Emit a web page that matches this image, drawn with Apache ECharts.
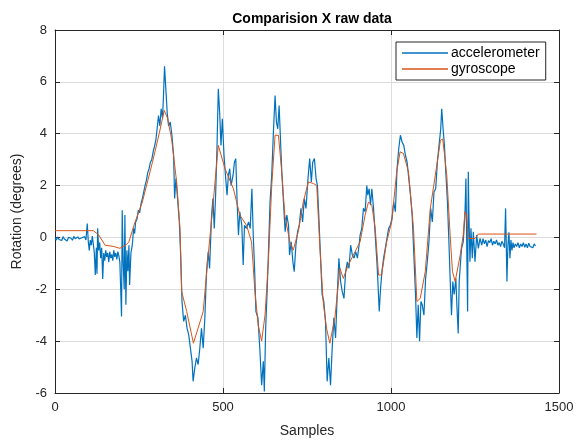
<!DOCTYPE html>
<html>
<head>
<meta charset="utf-8">
<script src="https://cdn.jsdelivr.net/npm/echarts@6/dist/echarts.min.js"></script>
<style>
  html, body { margin: 0; padding: 0; background: #fff; }
  #chart { width: 578px; height: 443px; }
</style>
</head>
<body>
<div id="chart"></div>
<script>
// [sample, degrees]
var accelData = [
    [0,-0.02],[4,-0.10],[8,0.02],[12,-0.08],[16,-0.04],[20,-0.12],[24,0.03],[28,-0.06],[32,-0.02],[36,-0.14],
    [40,0.0],[44,-0.07],[48,-0.03],[52,-0.11],[56,0.04],[60,-0.05],[64,-0.09],[68,0.02],[72,-0.06],[76,-0.13],
    [80,-0.01],[84,-0.08],[88,0.03],[92,-0.10],[96,0.54],[99,-0.15],[102,-0.5],[105,-0.1],[108,-0.3],[111,0.05],
    [114,-0.25],[117,-0.6],[120,-1.45],[123,-0.4],[125,-1.4],[127,0.35],[130,-0.5],[133,-0.2],[136,-0.8],[139,-0.4],
    [142,-1.6],[145,-0.6],[148,-0.9],[151,-0.5],[154,-0.75],[157,-0.6],[160,-0.95],[163,-0.55],[166,-0.8],[169,-0.65],
    [172,-0.9],[175,-0.5],[178,-0.75],[181,-0.6],[184,-0.85],[187,-0.55],[190,-0.7],[193,-0.95],[196,-2.2],[198,-3.05],
    [200,1.05],[203,-1.0],[206,-2.0],[208,0.86],[211,-2.6],[214,-0.5],[217,-1.3],[220,-0.3],[222,-1.83],[226,-0.6],
    [230,-0.3],[234,0.35],[237,0.15],[240,0.6],[244,0.7],[248,1.05],[252,0.95],[256,1.3],[260,1.5],[264,1.75],
    [268,2.0],[272,2.2],[276,2.5],[280,2.65],[284,2.9],[288,3.0],[292,3.3],[296,3.5],[300,3.75],[304,4.2],
    [308,4.7],[312,4.3],[316,4.96],[320,4.6],[323,5.5],[326,6.6],[330,5.7],[334,4.8],[338,4.3],[343,4.45],
    [348,3.94],[353,3.17],[356,1.5],[360,2.27],[364,1.63],[370,0.6],[374,-0.68],[378,-2.47],[383,-3.24],[388,-3.0],
    [393,-3.5],[398,-3.76],[403,-4.27],[408,-4.78],[411,-5.55],[416,-5.04],[421,-4.65],[426,-4.9],[431,-4.27],[436,-3.5],
    [441,-4.27],[446,-3.1],[451,-1.32],[456,-0.55],[460,-1.2],[466,0.86],[470,1.5],[474,0.35],[478,1.63],[482,3.42],
    [486,5.73],[490,4.83],[494,3.55],[498,4.58],[503,3.17],[508,2.27],[512,1.63],[516,2.4],[520,2.65],[524,2.0],
    [530,2.4],[534,2.9],[538,3.04],[542,1.37],[546,0.09],[550,0.99],[556,0.47],[560,-1.06],[564,0.47],[570,0.35],
    [576,0.6],[581,0.35],[586,1.88],[590,0.09],[594,-1.2],[598,-2.86],[604,-3.1],[610,-4.4],[615,-5.7],[620,-4.78],
    [623,-5.94],[627,-3.5],[631,-2.2],[635,-0.68],[640,1.37],[645,2.4],[650,4.06],[655,5.47],[659,4.45],[663,4.19],
    [667,5.09],[671,3.8],[675,2.53],[680,1.37],[685,0.22],[690,0.86],[695,0.47],[698,-0.68],[703,-0.17],[708,-0.94],
    [712,-1.32],[717,-0.3],[722,0.22],[727,0.47],[732,1.12],[737,0.6],[742,1.5],[747,1.12],[753,2.27],[758,3.04],
    [763,2.14],[767,2.9],[772,3.04],[777,2.27],[781,2.0],[785,0.86],[790,-0.68],[795,-2.2],[800,-2.47],[805,-3.24],
    [810,-5.55],[815,-4.65],[820,-5.7],[825,-4.27],[830,-3.1],[835,-3.88],[840,-2.2],[845,-0.8],[850,-1.7],[855,-2.09],
    [860,-2.35],[865,-1.32],[870,-0.94],[875,-1.19],[880,-0.3],[885,-0.68],[890,-0.8],[895,-0.55],[900,-0.8],[905,-0.3],
    [908,0.09],[913,0.35],[918,1.12],[923,0.99],[928,2.0],[931,1.63],[935,1.88],[939,1.24],[943,1.88],[948,1.12],
    [953,0.09],[958,-0.94],[961,-1.7],[965,-2.86],[969,-1.96],[973,-1.32],[978,-0.8],[983,-0.42],[988,-0.04],[993,0.35],
    [998,0.47],[1003,0.73],[1008,1.37],[1013,0.99],[1018,2.65],[1023,3.42],[1028,3.94],[1033,3.68],[1038,3.55],[1043,3.17],
    [1048,2.9],[1053,2.27],[1058,1.63],[1063,0.86],[1068,-0.68],[1073,-2.2],[1077,-3.88],[1081,-2.6],[1085,-4.0],[1089,-2.47],
    [1093,-2.6],[1098,-3.0],[1103,-1.58],[1108,-0.94],[1113,-0.17],[1118,1.12],[1123,0.6],[1128,1.76],[1133,1.88],[1138,2.9],
    [1143,3.55],[1148,4.19],[1151,4.96],[1155,4.19],[1159,3.55],[1163,2.53],[1168,1.37],[1173,-0.42],[1176,-1.58],[1180,-3.0],
    [1184,-1.7],[1188,-2.2],[1193,-1.58],[1196,-2.6],[1200,-3.7],[1203,-1.7],[1207,-0.94],[1210,-0.42],[1215,-0.17],[1220,0.86],
    [1223,2.27],[1226,-0.94],[1228,-2.86],[1230,2.53],[1232,0.86],[1235,-0.94],[1238,0.35],[1242,-0.8],[1245,0.22],[1250,-0.94],
    [1255,0.09],[1260,-0.42],[1265,-0.04],[1270,-0.3],[1274,-0.05],[1278,-0.25],[1282,-0.1],[1286,-0.35],[1290,-0.12],[1294,-0.2],
    [1298,-0.05],[1302,-0.3],[1306,-0.15],[1310,-0.25],[1314,-0.1],[1318,-0.3],[1322,-0.2],[1326,-0.35],[1330,-0.15],[1334,-0.25],
    [1338,-0.4],[1341,1.12],[1343,-0.2],[1345,-1.7],[1348,-0.3],[1351,0.2],[1354,-0.8],[1357,-0.1],[1360,-0.5],[1363,-0.2],
    [1366,-0.4],[1370,-0.25],[1374,-0.35],[1378,-0.2],[1382,-0.4],[1386,-0.25],[1390,-0.35],[1394,-0.2],[1398,-0.38],[1402,-0.25],
    [1406,-0.4],[1410,-0.22],[1414,-0.35],[1418,-0.28],[1422,-0.4],[1426,-0.25],[1430,-0.33]
];

var gyroData = [
    [0,0.26],[114,0.26],[130,0.1],[149,-0.3],[175,-0.35],[193,-0.42],[210,-0.3],[220,-0.17],[235,0.47],[260,1.37],
    [290,2.9],[310,4.0],[325,4.9],[335,4.6],[347,3.8],[362,2.14],[372,0.35],[377,-2.09],[392,-2.86],[412,-4.08],
    [441,-2.86],[456,-0.68],[471,1.37],[486,3.55],[491,3.6],[506,2.65],[531,1.88],[550,0.86],[570,0.47],[585,-0.17],
    [595,-2.09],[605,-3.4],[615,-4.0],[625,-3.0],[635,-0.94],[645,2.0],[655,3.94],[665,3.94],[674,2.65],[684,0.86],
    [699,-0.17],[709,-0.49],[724,0.22],[739,1.37],[754,2.14],[769,2.08],[779,2.0],[788,-0.3],[798,-2.47],[808,-3.5],
    [818,-4.08],[833,-3.1],[848,-1.19],[858,-1.58],[873,-1.06],[893,-0.55],[908,-0.17],[923,0.86],[933,1.37],[943,1.24],
    [953,0.35],[963,-1.45],[972,-1.45],[987,-0.17],[1002,0.6],[1017,2.53],[1027,3.3],[1037,3.24],[1052,2.53],[1067,0.35],
    [1077,-2.47],[1087,-2.35],[1102,-1.32],[1117,1.12],[1132,2.4],[1147,3.74],[1154,3.8],[1166,2.4],[1176,0.09],[1183,-1.32],
    [1191,-1.7],[1206,-0.68],[1215,0.09],[1220,0.99],[1225,0.86],[1230,-0.04],[1250,-0.04],[1260,0.13],[1433,0.13]
];

var seriesNames = ['accelerometer', 'gyroscope'];
var seriesColors = ['#0072BD', '#D95319'];

var chart = echarts.init(document.getElementById('chart'));
var fontName = 'Liberation Sans';

// top / right axes only draw the box and the inner ticks
function frameAxis(pos, isX) {
    return {
        type: 'value',
        position: pos,
        min: isX ? 0 : -6,
        max: isX ? 1500 : 8,
        interval: isX ? 500 : 2,
        axisLine: { show: true, onZero: false, lineStyle: { color: '#262626', width: 1 } },
        axisTick: { show: true, inside: true, length: 5, lineStyle: { color: '#262626' } },
        axisLabel: { show: false },
        splitLine: { show: false }
    };
}

var option = {
    animation: false,
    backgroundColor: '#fff',
    title: {
        text: 'Comparision X raw data',
        left: 307,
        textAlign: 'center',
        top: 7,
        textStyle: { fontFamily: fontName, fontSize: 14, fontWeight: 'bold', color: '#000' }
    },
    legend: {
        data: seriesNames,
        orient: 'vertical',
        left: 396,
        top: 42,
        icon: 'rect',
        itemWidth: 46,
        itemHeight: 1.5,
        itemGap: 2,
        padding: [4, 6, 4, 6],
        borderColor: '#262626',
        borderWidth: 1,
        backgroundColor: '#fff',
        textStyle: { fontFamily: fontName, fontSize: 14, color: '#000', padding: [0, 0, 0, -2] }
    },
    grid: { left: 55, right: 19, top: 30, bottom: 48 },
    xAxis: [
        {
            type: 'value',
            position: 'bottom',
            min: 0, max: 1500, interval: 500,
            name: 'Samples',
            nameLocation: 'middle',
            nameGap: 31,
            nameTextStyle: { fontFamily: fontName, fontSize: 14, color: '#262626' },
            axisLine: { show: true, onZero: false, lineStyle: { color: '#262626', width: 1 } },
            axisTick: { show: true, inside: true, length: 5, lineStyle: { color: '#262626' } },
            axisLabel: {
                fontFamily: fontName, fontSize: 13, color: '#262626', margin: 8,
                formatter: function (v) { return String(v); }
            },
            splitLine: { show: true, lineStyle: { color: '#dcdcdc', width: 1 } }
        },
        frameAxis('top', true)
    ],
    yAxis: [
        {
            type: 'value',
            position: 'left',
            min: -6, max: 8, interval: 2,
            name: 'Rotation (degrees)',
            nameLocation: 'middle',
            nameGap: 28,
            nameTextStyle: { fontFamily: fontName, fontSize: 14, color: '#262626' },
            axisLine: { show: true, onZero: false, lineStyle: { color: '#262626', width: 1 } },
            axisTick: { show: true, inside: true, length: 5, lineStyle: { color: '#262626' } },
            axisLabel: { fontFamily: fontName, fontSize: 13, color: '#262626', margin: 8 },
            splitLine: { show: true, lineStyle: { color: '#dcdcdc', width: 1 } }
        },
        frameAxis('right', false)
    ],
    series: [
        {
            name: seriesNames[0],
            type: 'line',
            data: accelData,
            showSymbol: false,
            color: seriesColors[0],
            lineStyle: { width: 1.2, color: seriesColors[0] }
        },
        {
            name: seriesNames[1],
            type: 'line',
            data: gyroData,
            showSymbol: false,
            color: seriesColors[1],
            lineStyle: { width: 1, color: seriesColors[1] }
        }
    ]
};

chart.setOption(option);
</script>
</body>
</html>
